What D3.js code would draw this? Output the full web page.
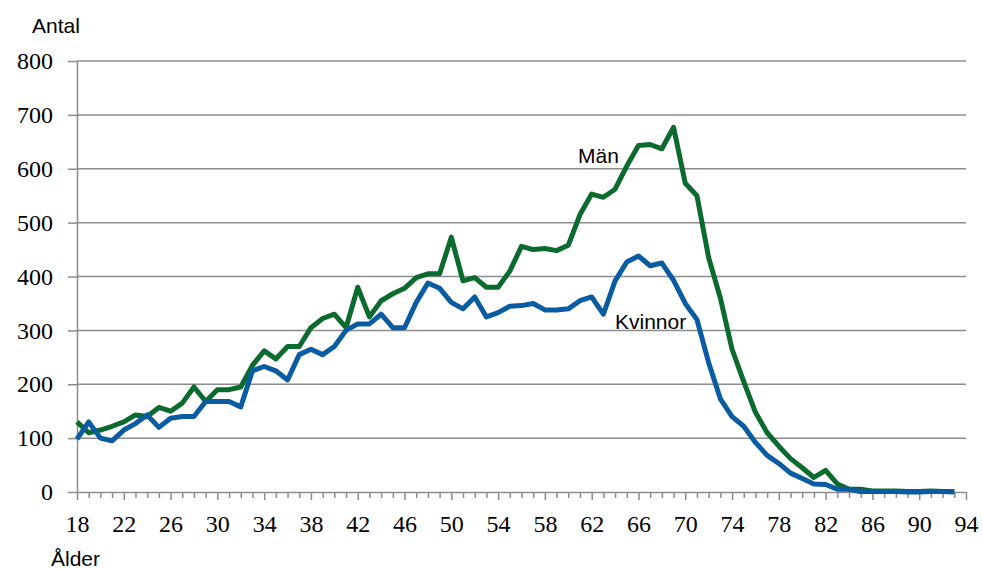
<!DOCTYPE html>
<meta charset="utf-8">
<style>
 body { margin: 0; background: #fff; }
 .grid line { stroke: #8c8c8c; stroke-width: 1.5px; }
 .axis path, .axis line { stroke: #8c8c8c; stroke-width: 1.5px; }
 .axis text { font-family: "Liberation Serif", "DejaVu Serif", serif; font-size: 24px; fill: #000; }
 .series { fill: none; stroke-width: 5px; stroke-linejoin: round; }
</style>
<svg width="983" height="569"></svg>
<script src="https://d3js.org/d3.v7.min.js"></script>
<script>

 var ages = d3.range(18, 94);

 var man = [130, 110, 115, 122, 130, 143, 140, 157, 150, 165,
            195, 168, 190, 190, 195, 235, 262, 247, 270, 270,
            305, 322, 330, 305, 380, 325, 355, 368, 378, 398,
            405, 405, 473, 392, 398, 380, 380, 410, 456, 450,
            452, 448, 458, 515, 553, 547, 562, 605, 643, 645,
            637, 677, 573, 550, 435, 360, 265, 205, 148, 110,
            85, 62, 45, 27, 40, 15, 5, 5, 2, 2,
            2, 1, 1, 2, 1, 1];

 var kvinnor = [98, 130, 100, 95, 115, 127, 143, 120, 137, 140,
                140, 168, 168, 168, 158, 225, 233, 225, 208, 255,
                265, 255, 270, 300, 312, 312, 330, 305, 305, 352,
                388, 378, 352, 340, 362, 325, 333, 345, 346, 350,
                338, 338, 340, 355, 362, 330, 392, 427, 438, 420,
                425, 393, 350, 320, 240, 173, 140, 122, 92, 68,
                53, 35, 25, 15, 14, 5, 5, 1, 1, 1,
                1, 0, 0, 1, 1, 0];

 var yTicks = [0, 100, 200, 300, 400, 500, 600, 700, 800];

 var serif = "Liberation Serif, DejaVu Serif, serif";
 var sans = "Liberation Sans, Arial, sans-serif";

 var svg = d3.select("svg");

 var x = d3.scaleLinear().domain([18, 94]).range([77, 966]);
 var y = d3.scaleLinear().domain([0, 800]).range([492, 61]);

 // horizontal gridlines
 svg.append("g")
    .attr("class", "grid")
    .selectAll("line")
    .data(yTicks.slice(1))
    .enter().append("line")
    .attr("x1", x(18)).attr("x2", x(94))
    .attr("y1", function(d) { return y(d); })
    .attr("y2", function(d) { return y(d); });

 // y axis
 var yAxis = svg.append("g")
    .attr("class", "axis")
    .attr("transform", "translate(" + x(18) + ",0)")
    .call(d3.axisLeft(y).tickValues(yTicks).tickSize(9).tickPadding(15).tickSizeOuter(0))
    .attr("font-family", serif).attr("font-size", 24);
 yAxis.selectAll(".tick text").attr("font-family", serif);

 // x axis: small ticks every year, labels every 4
 var xAxis = svg.append("g")
    .attr("class", "axis")
    .attr("transform", "translate(0," + y(0) + ")")
    .call(d3.axisBottom(x).tickValues(d3.range(18, 95)).tickSize(6).tickSizeOuter(0)
          .tickFormat(function(d) { return (d - 18) % 4 === 0 ? d : ""; }))
    .attr("font-family", serif).attr("font-size", 24);
 xAxis.selectAll(".tick line").attr("y2", function(d) { return (d - 18) % 4 === 0 ? 8 : 6; });
 xAxis.selectAll(".tick text").attr("y", 40).attr("dy", 0).attr("font-family", serif);

 var line = d3.line()
    .x(function(d, i) { return x(ages[i]); })
    .y(function(d) { return y(d); });

 svg.append("path")
    .datum(man)
    .attr("class", "series")
    .attr("stroke", "#0b6b2e")
    .attr("d", line);

 svg.append("path")
    .datum(kvinnor)
    .attr("class", "series")
    .attr("stroke", "#0a5ca2")
    .attr("d", line);

 function label(tx, ty, txt) {
   svg.append("text")
      .attr("x", tx).attr("y", ty)
      .attr("font-family", sans).attr("font-size", 21).attr("fill", "#000")
      .text(txt);
 }
 label(578, 163, "Män");
 label(615, 329, "Kvinnor");
 label(32, 33, "Antal");
 label(51, 566, "Ålder");

</script>
